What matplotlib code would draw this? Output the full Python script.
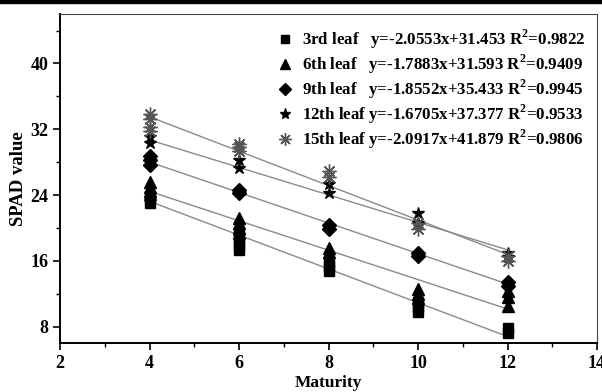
import numpy as np
import matplotlib.pyplot as plt
from matplotlib.ticker import MultipleLocator
from matplotlib.lines import Line2D

plt.rcParams['font.family'] = ['Liberation Serif', 'DejaVu Serif']
plt.rcParams['font.weight'] = 'bold'
plt.rcParams['mathtext.fontset'] = 'custom'
plt.rcParams['mathtext.rm'] = 'Liberation Serif:bold'
plt.rcParams['mathtext.bf'] = 'Liberation Serif:bold'

# replicate readings per maturity stage
maturity = [4, 6, 8, 10, 12]
leaf3 = [[23.6, 23.0], [19.3, 18.6, 17.9, 17.3], [15.9, 15.3, 14.8], [11.0, 10.4, 9.8], [7.8, 7.2]]
leaf6 = [[25.6, 25.0, 24.5, 24.1], [21.2, 20.6, 20.0, 19.4], [17.6, 17.1], [12.6, 12.0, 11.5], [12.3, 11.6, 10.5]]
leaf9 = [[28.7, 28.2, 27.7], [24.6, 24.2], [20.4, 19.9], [17.0, 16.6], [13.4, 12.9]]
leaf12 = [[31.1, 30.3], [28.3, 27.3], [25.3, 24.3], [21.8, 20.6], [17.0, 16.4]]
leaf15 = [[33.8, 33.2, 32.3, 31.8], [30.2, 29.8, 29.4], [26.9, 26.2], [20.6, 19.9], [16.6, 16.0]]

names = ['3rd leaf', '6th leaf', '9th leaf', '12th leaf', '15th leaf']
slopes = [-2.0553, -1.7883, -1.8552, -1.6705, -2.0917]
intercepts = [31.453, 31.593, 35.433, 37.377, 41.879]
r2 = [0.9822, 0.9409, 0.9945, 0.9533, 0.9806]

series = [leaf3, leaf6, leaf9, leaf12, leaf15]
markers = ['s', '^', 'D', '*', (8, 2, 0)]
msizes = [7, 8, 7, 9, 10]
colors = ['black', 'black', 'black', 'black', '#555555']

fig = plt.figure(figsize=(6.02, 3.92), dpi=100)
ax = fig.add_axes([0.0997, 0.125, 0.892, 0.839])

xfit = np.array([4, 12])
handles = []
labels = []
for i, data in enumerate(series):
    xs = []
    ys = []
    for m, vals in zip(maturity, data):
        xs += [m] * len(vals)
        ys += vals
    ax.plot(xfit, slopes[i] * xfit + intercepts[i], color='#8a8a8a', lw=1, zorder=1)
    ax.plot(xs, ys, ls='none', marker=markers[i], ms=msizes[i], color=colors[i],
            mec=colors[i], mew=1, zorder=2)
    handles.append(Line2D([], [], ls='none', marker=markers[i], ms=msizes[i] - 1,
                          color=colors[i], mec=colors[i], mew=1))
    gap = '  ' if len(names[i]) < 9 else ''
    labels.append(f'{names[i]}{gap} y={slopes[i]:.4f}x+{intercepts[i]:.3f} '
                  f'R$^2$=%.4f' % r2[i])

leg = ax.legend(handles, labels, loc='upper right', frameon=False, fontsize=12.2,
                handlelength=0.8, handletextpad=0.6, labelspacing=0.1,
                borderaxespad=0.3, bbox_to_anchor=(1.0, 0.995))
for t in leg.get_texts():
    t.set_fontweight('bold')

ax.set_xlim(2, 14)
ax.set_ylim(6, 46)
ax.xaxis.set_major_locator(MultipleLocator(2))
ax.xaxis.set_minor_locator(MultipleLocator(1))
ax.yaxis.set_major_locator(MultipleLocator(8))
ax.yaxis.set_minor_locator(MultipleLocator(4))
ax.set_yticks([8, 16, 24, 32, 40])
ax.tick_params(which='major', direction='out', length=5, width=1.2, labelsize=13)
ax.tick_params(which='minor', direction='out', length=3, width=1.0)
for lab in ax.get_xticklabels() + ax.get_yticklabels():
    lab.set_fontweight('bold')

ax.spines['left'].set_linewidth(1.4)
ax.spines['bottom'].set_linewidth(1.4)
ax.spines['top'].set_color('#444444')
ax.spines['right'].set_color('#444444')

ax.set_xlabel('Maturity', fontsize=12.5, fontweight='bold', labelpad=2)
ax.set_ylabel('SPAD value', fontsize=13.5, fontweight='bold', labelpad=2)

# dark band along the top edge of the original image
fig.patches.append(plt.Rectangle((0, 0.993), 1, 0.007, transform=fig.transFigure,
                                 color='black', zorder=10))

fig.savefig('out.png', dpi=100)
